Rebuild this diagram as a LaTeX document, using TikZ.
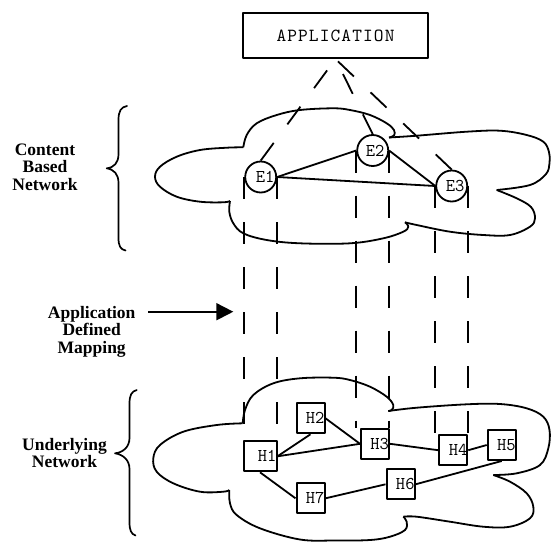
\documentclass[tikz,border=0pt]{standalone}
\usepackage{fontspec}
\setmainfont{Liberation Serif}
\newfontfamily\appfont{lmmono10-regular}[Extension=.otf,LetterSpace=6]
\usetikzlibrary{arrows.meta}

\begin{document}
\begin{tikzpicture}[x=1pt,y=-1pt,line width=1.8pt,line join=round,
  appbox/.style={draw,line width=2pt,minimum width=185pt,minimum height=45pt,inner sep=0pt,
    font=\appfont\fontsize{18.5}{18.5}\selectfont},
  esite/.style={circle,draw,fill=white,minimum size=31pt,inner sep=0pt},
  etext/.style={inner sep=0pt,font=\ttfamily\fontsize{18}{18}\selectfont},
  hsite/.style={rectangle,draw,fill=white,line width=2pt,minimum height=30pt,
    text width=28pt,align=right,inner xsep=0pt,inner ysep=0pt,
    font=\ttfamily\fontsize{18}{18}\selectfont},
  sidelabel/.style={inner sep=0pt,align=center,font=\bfseries\fontsize{17.5}{17.5}\selectfont},
  mapline/.style={dash pattern=on 22pt off 23pt},
  lobe/.style={smooth,tension=0.6},
  curly/.style={line width=1.7pt,line cap=round}]

\useasboundingbox (0,0) rectangle (551,542);

% ---------- upper cloud ----------
\draw plot[lobe] coordinates {(243.3,147.3) (246.7,135) (256.7,123.3) (276.7,115) (300,110) (333.3,108.3) (350,110) (370,115) (386.7,123.3) (394,130) (394,135.5) (389,137.5)};
\draw plot[lobe] coordinates {(389,137.5) (416.7,135.7) (466.7,131.7) (500,130.7) (526.7,135) (543.3,141.7) (549,152) (549.5,163) (546,174) (530,185) (496.7,190)};
\draw plot[lobe] coordinates {(496.7,190) (516.7,198.3) (531,207) (535,218.3) (530,226.7) (510,235) (483.3,235) (450,231.7) (416.7,225) (405,222.3)};
\draw plot[lobe] coordinates {(405,222.3) (408.3,226.7) (403.3,231.7) (383.3,238.3) (350,243.3) (300,243.3) (266.7,240) (243.3,233.3) (233.3,223.3) (229.3,211.7) (230,201)};
\draw plot[lobe] coordinates {(230,201) (223.3,202.3) (200,201.7) (176.7,196.7) (160,186.7) (155,176.7) (160,166.7) (176.7,156.7) (200,150) (226.7,147.7) (243.3,147.3)};

% ---------- lower cloud ----------
\draw plot[lobe] coordinates {(242.7,423.3) (245,410) (253.3,395) (273.3,383.3) (300,378.3) (333.3,377.7) (350,380) (370,386.7) (386.7,396.7) (393.3,405) (391.7,410) (388.3,411)};
\draw plot[lobe] coordinates {(388.3,411) (416.7,407.7) (466.7,404.3) (500,404) (526.7,408.3) (543.3,416.7) (549.5,430) (548.3,448.3) (540,465) (516.7,473.3) (493.3,475)};
\draw plot[lobe] coordinates {(493.3,475) (510,481.7) (526.7,493.3) (533.3,506.7) (530,518.3) (510,526.7) (483.3,526.7) (450,521.7) (416.7,516.7) (403.3,516.7)};
\draw plot[lobe] coordinates {(403.3,516.7) (406.7,521.7) (405,530) (390,536.7) (370,540) (335,540.5) (300,539.5) (260,528.3) (236.7,515) (230,503.3) (229.3,490)};
\draw plot[lobe] coordinates {(229.3,490) (223.3,491.7) (200,491.7) (173.3,483.3) (156.7,471.7) (153.3,458.3) (160,445) (183.3,431.7) (216.7,425) (242.7,423.3)};

% ---------- braces ----------
\draw[curly] (127,106) .. controls (121,107) and (118.5,111) .. (118.5,120) -- (118.5,154)
  .. controls (118.5,163) and (114,167.5) .. (106.7,168.3)
  .. controls (114,169.5) and (118.5,174) .. (118.5,183) -- (118.5,238)
  .. controls (118.5,246) and (120.5,249.5) .. (125.5,250.5);
\draw[curly] (136.7,390) .. controls (131.5,391.5) and (129.5,395) .. (129.5,404) -- (129.5,438)
  .. controls (129.5,447) and (123,452.5) .. (115,453.3)
  .. controls (123,454.5) and (129.5,460) .. (129.5,469) -- (129.5,522)
  .. controls (129.5,530) and (131,534) .. (135.5,535.5);

% ---------- side labels ----------
\node[sidelabel] (cbn) at (45,167) {Content\\Based\\Network};
\node[sidelabel] (adm) at (91.7,331.5) {Application\\Defined\\Mapping};
\node[sidelabel] (un) at (64.5,453) {Underlying\\Network};
\coordinate (arrS) at (148.3,311.7);
\coordinate (arrE) at (233.3,311.7);
\draw[line width=1.8pt,-{Triangle[length=17pt,width=17pt]}] (arrS) -- (arrE);

% ---------- application and content based network ----------
\node[appbox] (app) at (335.5,35.5) {APPLICATION};

\node[esite] (E1) at (260.7,177) {};
\node[esite] (E2) at (372.7,150.5) {};
\node[esite] (E3) at (451.7,186) {};
\node[etext] (E1t) at ([xshift=4.5pt]E1.center) {E1};
\node[etext] (E2t) at ([xshift=2.5pt]E2.center) {E2};
\node[etext] (E3t) at ([xshift=3.5pt]E3.center) {E3};

% ---------- underlying network ----------
\node[hsite,text width=33pt] (H1) at (260,456.3) {H1};
\node[hsite] (H2) at (310.5,418.3) {H2};
\node[hsite] (H3) at (375,443.8) {H3};
\node[hsite] (H4) at (453.3,450.2) {H4};
\node[hsite] (H5) at (501.7,445) {H5};
\node[hsite] (H6) at (400.5,484.3) {H6};
\node[hsite] (H7) at (310.5,498.3) {H7};

% ---------- mapping lines ----------
\draw[mapline] (E1.north) -- (app.south);
\draw[mapline] (E2.north) -- (app.south);
\draw[mapline] (E3.north) -- (app.south);

\draw[mapline] (E1.west) -- (E1.west |- H1.north);
\draw[mapline] (E1.east) -- (E1.east |- H1.north);
\draw[mapline] (E2.west) -- (E2.west |- H3.north);
\draw[mapline] (E2.east) -- (E2.east |- H3.north);
\draw[mapline] (E3.west) -- (E3.west |- H4.north);
\draw[mapline] (E3.east) -- (E3.east |- H4.north);

% ---------- links ----------
\draw (E1.east) -- (E2.west);
\draw (E1.east) -- (E3.west);
\draw (E2.east) -- (E3.west);

\draw (H1.east) -- (H2.south);
\draw (H1.east) -- (H3.west);
\draw (H2.east) -- (H3.west);
\draw (H3.east) -- (H4.west);
\draw (H4.east) -- (H5.west);
\draw (H5.south) -- (H6.east);
\draw (H6.west) -- (H7.east);
\draw (H1.south) -- (H7.west);
\end{tikzpicture}
\end{document}
